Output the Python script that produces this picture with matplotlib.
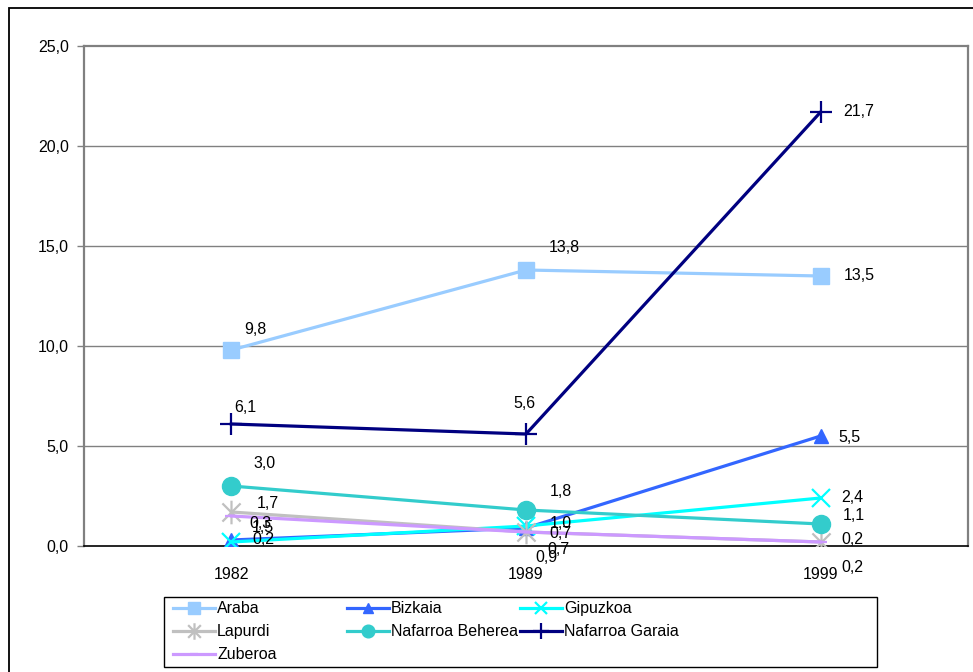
import matplotlib.pyplot as plt
from matplotlib.path import Path
from matplotlib.patches import Rectangle

plt.rcParams['font.family'] = ['Liberation Sans', 'DejaVu Sans']

years = ['1982', '1989', '1999']
series_names = ['Araba', 'Bizkaia', 'Gipuzkoa', 'Lapurdi',
                'Nafarroa Beherea', 'Nafarroa Garaia', 'Zuberoa']
araba = [9.8, 13.8, 13.5]
bizkaia = [0.3, 0.9, 5.5]
gipuzkoa = [0.2, 1.0, 2.4]
lapurdi = [1.7, 0.7, 0.2]
nafarroa_beherea = [3.0, 1.8, 1.1]
nafarroa_garaia = [6.1, 5.6, 21.7]
zuberoa = [1.5, 0.7, 0.2]
values = [araba, bizkaia, gipuzkoa, lapurdi, nafarroa_beherea, nafarroa_garaia, zuberoa]

# styling
star = Path([(-1, -1), (1, 1), (-1, 1), (1, -1), (0, -1.3), (0, 1.3)],
            [Path.MOVETO, Path.LINETO, Path.MOVETO, Path.LINETO, Path.MOVETO, Path.LINETO])
colors = ['#99CCFF', '#3366FF', '#00FFFF', '#C0C0C0', '#33CCCC', '#000080', '#CC99FF']
markers = ['s', '^', 'x', star, 'o', '+', '_']
msizes = [12, 10, 13, 17, 13, 16, 8]
FS = 11.5
# data label offsets in pixels (dx, dy)
label_offsets = [
    [(13, 21), (23, 23), (23, 0)],
    [(18, 17), (9, -30), (18, -1)],
    [(21, 2), (24, 3), (21, 0)],
    [(25, 9), (21, -18), (21, -25)],
    [(22, 22), (24, 18), (22, 9)],
    [(3, 16), (-13, 30), (23, 0)],
    [(20, -12), (23, -1), (21, 2)],
]

fig = plt.figure(figsize=(9.73, 6.72), dpi=100)
ax = fig.add_axes([84 / 973, 1 - 546 / 672, (968 - 84) / 973, 500 / 672])

handles = []
x = list(range(len(years)))
for name, vals, c, m, ms, offs in zip(series_names, values, colors, markers, msizes, label_offsets):
    filled = m in ('s', '^', 'o')
    ln, = ax.plot(x, vals, color=c, lw=2.3, marker=m, markersize=ms,
                  markerfacecolor=c if filled else 'none', markeredgecolor=c,
                  markeredgewidth=1.6 if not filled else 1, label=name, zorder=3)
    handles.append(ln)
    for xi, v, (dx, dy) in zip(x, vals, offs):
        ax.annotate(f'{v:.1f}'.replace('.', ','), (xi, v), xytext=(dx, dy),
                    textcoords='offset pixels', ha='left', va='center',
                    fontsize=FS, color='black', zorder=4)

ax.set_xlim(-0.5, 2.5)
ax.set_ylim(0, 25)
ax.set_xticks(x)
ax.set_xticklabels(years)
ax.set_yticks([0, 5, 10, 15, 20, 25])
ax.set_yticklabels([f'{t:.1f}'.replace('.', ',') for t in [0, 5, 10, 15, 20, 25]])
ax.tick_params(axis='x', length=0, pad=15, labelsize=FS)
ax.tick_params(axis='y', length=5, width=1, color='#808080', pad=6, labelsize=FS)
for y in [5, 10, 15, 20]:
    ax.axhline(y, color='#808080', lw=1, zorder=1)
for s in ['top', 'right', 'left']:
    ax.spines[s].set_color('#808080')
    ax.spines[s].set_linewidth(1.6)
ax.spines['bottom'].set_color('black')
ax.spines['bottom'].set_linewidth(1.2)

# outer chart frame
fig.add_artist(Rectangle((9 / 973, -0.1), 1.2, 1 - 8 / 672 + 0.1,
                         transform=fig.transFigure, fill=False, ec='black', lw=1.3))

# legend box and three columns
fig.add_artist(Rectangle((164 / 973, 1 - 667 / 672), (877 - 164) / 973, 70 / 672,
                         transform=fig.transFigure, fill=False, ec='black', lw=1))
cols = [[0, 3, 6], [1, 4], [2, 5]]
col_x = [170, 344, 517]
for cx, idx in zip(col_x, cols):
    leg = fig.legend([handles[i] for i in idx], [series_names[i] for i in idx],
                     loc='upper left', bbox_to_anchor=(cx / 973, 1 - 598 / 672),
                     frameon=False, fontsize=FS, handlelength=2.6, handletextpad=0.15,
                     labelspacing=0.5, borderaxespad=0, borderpad=0.2)
    for lh in leg.legend_handles:
        lh.set_markersize(lh.get_markersize() * 0.7)

fig.savefig('out.png', dpi=100)
